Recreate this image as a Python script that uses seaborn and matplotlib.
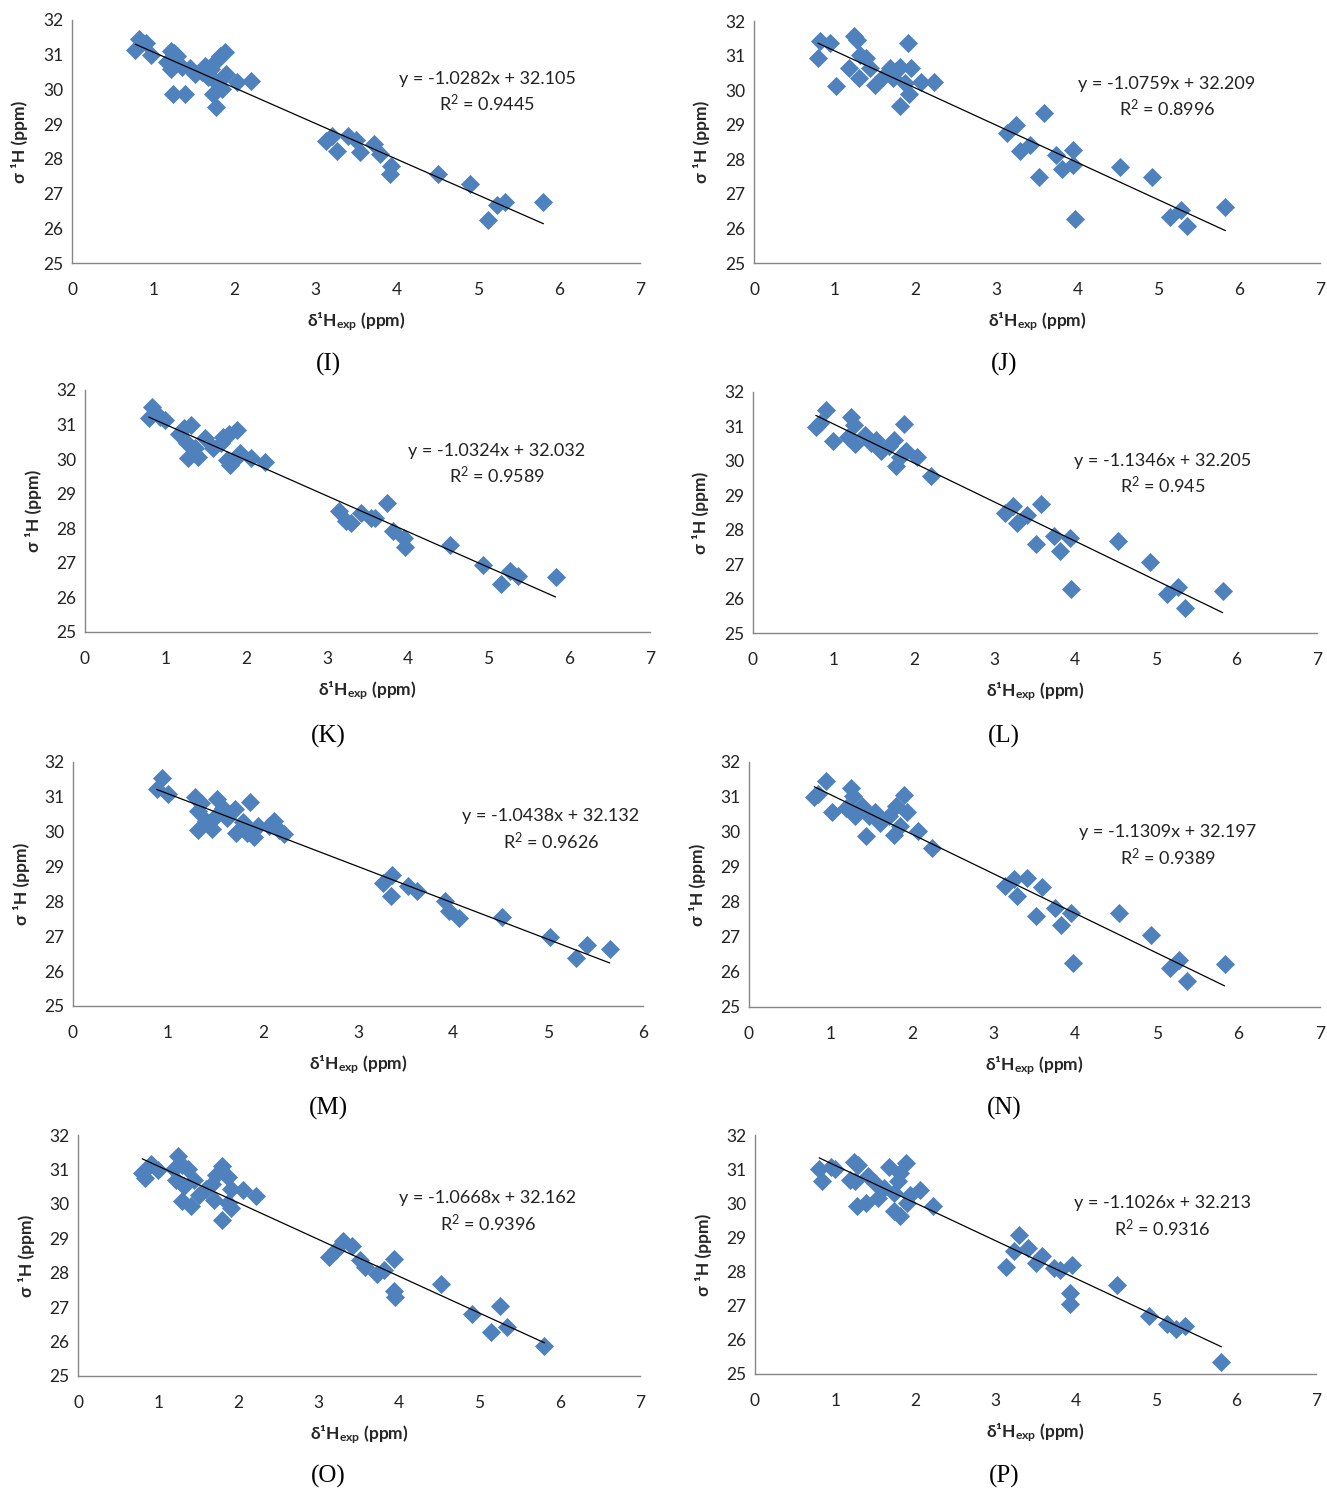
import matplotlib
matplotlib.use("Agg")
import matplotlib.pyplot as plt
import seaborn as sns

# ── data (δ1H exp vs σ 1H) ────────────────────────────────────

X_I = [0.78, 0.82, 0.91, 0.97, 1.17, 1.22, 1.26, 1.30, 1.22, 1.24, 1.39, 1.35, 1.45, 1.52,
       1.60, 1.64, 1.68, 1.71, 1.74, 1.78, 1.83, 1.89, 1.74, 1.78, 1.80, 1.85, 1.90, 2.03,
       2.21, 3.13, 3.21, 3.27, 3.40, 3.50, 3.55, 3.72, 3.80, 3.93, 3.92, 4.51, 4.90, 5.13,
       5.24, 5.34, 5.81]
Y_I = [31.13, 31.45, 31.33, 31.00, 30.78, 31.10, 31.04, 30.95, 30.58, 29.88, 29.86, 30.65,
       30.63, 30.44, 30.50, 30.68, 30.35, 30.58, 30.30, 30.83, 30.97, 31.07, 29.86, 29.50,
       30.15, 30.00, 30.44, 30.20, 30.25, 28.52, 28.66, 28.23, 28.66, 28.54, 28.21, 28.44,
       28.13, 27.79, 27.57, 27.55, 27.28, 26.25, 26.67, 26.76, 26.76]

X_J = [0.79, 0.82, 0.94, 1.01, 1.17, 1.24, 1.27, 1.30, 1.31, 1.38, 1.43, 1.50, 1.59, 1.68,
       1.75, 1.80, 1.80, 1.87, 1.90, 1.92, 1.94, 1.72, 2.06, 2.23, 3.13, 3.24, 3.29, 3.41,
       3.52, 3.59, 3.73, 3.81, 3.94, 3.95, 3.97, 4.53, 4.92, 5.15, 5.28, 5.36, 5.83]
Y_J = [30.94, 31.42, 31.36, 30.12, 30.65, 31.58, 31.45, 30.34, 31.02, 30.94, 30.63, 30.15,
       30.39, 30.63, 30.54, 30.68, 29.53, 30.20, 31.36, 29.88, 30.63, 30.35, 30.25, 30.25,
       28.76, 29.00, 28.25, 28.42, 27.50, 29.35, 28.11, 27.73, 27.84, 28.27, 26.28, 27.79,
       27.48, 26.33, 26.54, 26.06, 26.61]

X_K = [0.79, 0.83, 0.93, 0.99, 1.16, 1.23, 1.31, 1.26, 1.28, 1.36, 1.40, 1.49, 1.59, 1.68,
       1.71, 1.78, 1.88, 1.76, 1.80, 1.85, 1.92, 2.06, 2.23, 3.15, 3.23, 3.30, 3.42, 3.54,
       3.59, 3.74, 3.82, 3.95, 3.96, 4.52, 4.93, 5.15, 5.27, 5.36, 5.83]
Y_K = [31.18, 31.52, 31.23, 31.13, 30.72, 30.89, 31.00, 30.46, 30.04, 30.31, 30.07, 30.60,
       30.31, 30.46, 30.65, 30.72, 30.84, 29.98, 29.83, 29.98, 30.17, 30.04, 29.91, 28.50,
       28.21, 28.15, 28.44, 28.29, 28.29, 28.72, 27.93, 27.71, 27.47, 27.52, 26.94, 26.38,
       26.75, 26.63, 26.60]

X_L = [0.78, 0.83, 0.91, 0.99, 1.18, 1.22, 1.25, 1.27, 1.39, 1.46, 1.53, 1.59, 1.69, 1.75,
       1.78, 1.83, 1.88, 1.90, 2.04, 2.21, 3.13, 3.23, 3.28, 3.40, 3.51, 3.57, 3.73, 3.81,
       3.93, 3.95, 4.53, 4.93, 5.14, 5.27, 5.36, 5.83]
Y_L = [30.97, 31.10, 31.48, 30.58, 30.68, 31.26, 31.05, 30.49, 30.76, 30.52, 30.62, 30.28,
       30.42, 30.62, 29.84, 30.12, 31.06, 30.28, 30.11, 29.56, 28.49, 28.69, 28.20, 28.44,
       27.59, 28.74, 27.81, 27.38, 27.77, 26.27, 27.67, 27.07, 26.12, 26.35, 25.74, 26.22]

X_M = [0.88, 0.94, 1.00, 1.28, 1.32, 1.35, 1.32, 1.46, 1.40, 1.50, 1.52, 1.58, 1.62, 1.71,
       1.72, 1.79, 1.86, 1.83, 1.91, 1.95, 2.06, 2.12, 2.17, 2.22, 3.26, 3.36, 3.35, 3.53,
       3.62, 3.92, 3.96, 4.06, 4.52, 5.02, 5.29, 5.41, 5.65]
Y_M = [31.22, 31.54, 31.09, 31.01, 30.58, 30.82, 30.05, 30.08, 30.30, 30.45, 30.93, 30.69,
       30.40, 30.66, 29.95, 30.29, 30.86, 29.95, 29.86, 30.15, 30.15, 30.31, 30.05, 29.93,
       28.52, 28.76, 28.17, 28.43, 28.29, 28.00, 27.73, 27.52, 27.54, 26.97, 26.37, 26.74,
       26.63]

X_N = [0.80, 0.84, 0.95, 1.02, 1.25, 1.28, 1.19, 1.30, 1.39, 1.43, 1.47, 1.55, 1.61, 1.72,
       1.80, 1.78, 1.85, 1.90, 1.94, 2.07, 2.24, 3.14, 3.25, 3.29, 3.41, 3.59, 3.52, 3.75,
       3.83, 3.95, 3.97, 4.54, 4.93, 5.16, 5.27, 5.37, 5.83]
Y_N = [30.99, 31.09, 31.47, 30.57, 31.26, 31.02, 30.69, 30.45, 30.73, 29.88, 30.45, 30.57,
       30.26, 30.45, 30.73, 29.92, 30.16, 31.07, 30.57, 30.04, 29.54, 28.45, 28.67, 28.16,
       28.70, 28.42, 27.61, 27.83, 27.35, 27.69, 26.26, 27.69, 27.07, 26.11, 26.35, 25.75,
       26.23]

X_O = [0.80, 0.83, 0.91, 1.00, 1.24, 1.20, 1.29, 1.37, 1.22, 1.32, 1.29, 1.41, 1.45, 1.51,
       1.60, 1.67, 1.72, 1.79, 1.70, 1.79, 1.87, 1.91, 1.91, 1.87, 2.05, 2.22, 3.13, 3.21,
       3.30, 3.41, 3.51, 3.57, 3.72, 3.81, 3.94, 3.94, 3.95, 4.52, 4.91, 5.14, 5.26, 5.34,
       5.81]
Y_O = [30.90, 30.76, 31.17, 30.99, 31.38, 31.02, 31.12, 31.02, 30.68, 30.51, 30.08, 29.93,
       30.70, 30.25, 30.44, 30.57, 30.83, 31.09, 30.10, 29.54, 30.78, 30.44, 29.88, 30.02,
       30.39, 30.23, 28.45, 28.65, 28.91, 28.79, 28.36, 28.18, 27.95, 28.09, 28.40, 27.48,
       27.29, 27.68, 26.81, 26.29, 27.02, 26.42, 25.86]

X_P = [0.80, 0.83, 0.95, 1.00, 1.24, 1.29, 1.18, 1.25, 1.27, 1.39, 1.41, 1.53, 1.50, 1.61,
       1.67, 1.74, 1.78, 1.81, 1.74, 1.81, 1.89, 1.90, 1.94, 2.06, 2.22, 3.13, 3.23, 3.30,
       3.41, 3.50, 3.58, 3.73, 3.81, 3.95, 3.93, 3.93, 4.52, 4.92, 5.14, 5.25, 5.36, 5.82]
Y_P = [30.99, 30.66, 31.05, 31.01, 31.22, 31.11, 30.69, 30.66, 29.91, 30.00, 30.79, 30.15,
       30.59, 30.44, 31.05, 30.30, 30.64, 30.88, 29.76, 29.62, 31.17, 30.00, 30.25, 30.39,
       29.91, 28.13, 28.60, 29.08, 28.68, 28.24, 28.45, 28.11, 28.06, 28.18, 27.36, 27.04,
       27.62, 26.71, 26.47, 26.33, 26.40, 25.34]

PANELS = ["I", "J", "K", "L", "M", "N", "O", "P"]
SLOPES = [-1.0282, -1.0759, -1.0324, -1.1346, -1.0438, -1.1309, -1.0668, -1.1026]
INTERCEPTS = [32.105, 32.209, 32.032, 32.205, 32.132, 32.197, 32.162, 32.213]
R2_TEXT = ["0.9445", "0.8996", "0.9589", "0.945", "0.9626", "0.9389", "0.9396", "0.9316"]
X_MAX = [7, 7, 7, 7, 6, 7, 7, 7]

XS = [X_I, X_J, X_K, X_L, X_M, X_N, X_O, X_P]
YS = [Y_I, Y_J, Y_K, Y_L, Y_M, Y_N, Y_O, Y_P]

# ── layout in pixels: x of 0, x of max, y of 32, y of 25, equation centre, label centre
W, H = 1327, 1493
BOXES = [
    (72, 640, 20, 263, (487, 79), (328, 364)),
    (754, 1320, 21, 263, (1167, 84), (1004, 364)),
    (85, 650, 390, 632, (497, 451), (328, 736)),
    (753, 1317, 392, 633, (1163, 461), (1004, 736)),
    (73, 643, 762, 1006, (551, 816), (328, 1108)),
    (749, 1320, 762, 1007, (1168, 832), (1004, 1108)),
    (78, 640, 1135, 1376, (488, 1198), (328, 1476)),
    (755, 1316, 1135, 1374, (1162, 1203), (1004, 1476)),
]

BLUE = "#4F81BD"
GREY = "#868686"
FONT = ["Lato", "DejaVu Sans"]

sns.set_style("white")
plt.rcParams["font.family"] = FONT
plt.rcParams["mathtext.default"] = "regular"

fig = plt.figure(figsize=(W / 100, H / 100), dpi=100)

for i, name in enumerate(PANELS):
    x0, x1, ytop, ybot, eq_xy, lab_xy = BOXES[i]
    ax = fig.add_axes([x0 / W, (H - ybot) / H, (x1 - x0) / W, (ybot - ytop) / H])
    ax_h = ybot - ytop

    sns.scatterplot(x=XS[i], y=YS[i], marker="D", s=95, color=BLUE,
                    edgecolor=BLUE, linewidth=0, ax=ax, zorder=3)

    # trendline over the data range
    lo, hi = min(XS[i]), max(XS[i])
    ax.plot([lo, hi], [SLOPES[i] * lo + INTERCEPTS[i], SLOPES[i] * hi + INTERCEPTS[i]],
            color="black", linewidth=0.9, zorder=4)

    ax.set_xlim(0, X_MAX[i])
    ax.set_ylim(25, 32)
    ax.set_xticks(range(0, X_MAX[i] + 1))
    ax.set_yticks(range(25, 33))
    ax.grid(False)
    for side in ["top", "right"]:
        ax.spines[side].set_visible(False)
    for side in ["left", "bottom"]:
        ax.spines[side].set_color(GREY)
        ax.spines[side].set_linewidth(1.0)
    ax.tick_params(axis="both", direction="out", length=4, width=1, color=GREY,
                   labelsize=12.5, labelcolor="#222222")
    ax.tick_params(axis="x", pad=10)
    ax.tick_params(axis="y", pad=2)

    ax.set_xlabel(r"δ¹H$_{exp}$ (ppm)", fontsize=12.5, fontweight="bold", va="center")
    ax.xaxis.set_label_coords(0.5, -59 / ax_h)
    ax.set_ylabel("σ ¹H (ppm)", fontsize=12.5, fontweight="bold", va="center")
    ax.yaxis.set_label_coords(-52 / (x1 - x0), 0.5)

    sign = "-" if SLOPES[i] < 0 else "+"
    eq = f"y = {sign}{abs(SLOPES[i]):.4f}x + {INTERCEPTS[i]:.3f}"
    fig.text(eq_xy[0] / W, 1 - eq_xy[1] / H, eq, ha="center", va="center",
             fontsize=13, color="#222222")
    fig.text(eq_xy[0] / W, 1 - (eq_xy[1] + 25) / H, f"R$^2$ = {R2_TEXT[i]}",
             ha="center", va="center", fontsize=13, color="#222222")

    fig.text(lab_xy[0] / W, 1 - lab_xy[1] / H, f"({name})", ha="center", va="center",
             fontsize=18, family="Liberation Serif", color="black")

fig.savefig("out.png", dpi=100)
